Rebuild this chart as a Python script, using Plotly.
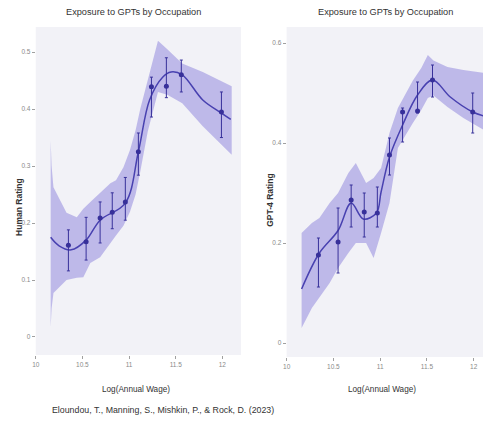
import plotly.graph_objects as go

# ---------------- data ----------------
# Left panel: Human Rating
h_pts_x = [10.35, 10.54, 10.69, 10.82, 10.96, 11.10, 11.24, 11.40, 11.56, 11.99]
h_pts_y = [0.161, 0.167, 0.209, 0.219, 0.237, 0.325, 0.439, 0.440, 0.460, 0.395]
h_pts_hi = [0.188, 0.210, 0.237, 0.253, 0.280, 0.358, 0.456, 0.490, 0.486, 0.430]
h_pts_lo = [0.116, 0.135, 0.165, 0.190, 0.205, 0.284, 0.386, 0.420, 0.430, 0.350]

h_fit_x = [10.16, 10.25, 10.38, 10.54, 10.69, 10.96, 11.10, 11.22, 11.36, 11.45, 11.57, 11.79, 11.99, 12.09]
h_fit_y = [0.175, 0.160, 0.153, 0.170, 0.205, 0.235, 0.325, 0.416, 0.456, 0.465, 0.460, 0.416, 0.393, 0.382]

h_band_x = [10.16, 10.17, 10.19, 10.33, 10.44, 10.51, 10.585, 10.69, 10.80, 10.86, 10.94, 11.01, 11.07,
            11.12, 11.20, 11.31, 11.41, 11.57, 11.79, 12.10]
h_band_hi = [0.345, 0.300, 0.263, 0.218, 0.210, 0.225, 0.237, 0.253, 0.270, 0.275, 0.298, 0.328, 0.363,
             0.400, 0.450, 0.520, 0.505, 0.480, 0.465, 0.440]
h_band_lo = [0.017, 0.050, 0.077, 0.100, 0.104, 0.105, 0.130, 0.140, 0.165, 0.178, 0.195, 0.220, 0.250,
             0.290, 0.360, 0.430, 0.425, 0.410, 0.370, 0.320]

# Right panel: GPT-4 Rating
g_pts_x = [10.34, 10.55, 10.69, 10.83, 10.97, 11.10, 11.24, 11.40, 11.56, 11.99]
g_pts_y = [0.176, 0.202, 0.286, 0.262, 0.260, 0.376, 0.462, 0.464, 0.526, 0.462]
g_pts_hi = [0.210, 0.270, 0.316, 0.300, 0.312, 0.410, 0.470, 0.522, 0.556, 0.500]
g_pts_lo = [0.112, 0.140, 0.232, 0.212, 0.232, 0.336, 0.402, 0.460, 0.492, 0.420]

g_fit_x = [10.16, 10.35, 10.55, 10.69, 10.82, 10.96, 11.01, 11.10, 11.24, 11.40, 11.56, 11.75, 11.99, 12.11]
g_fit_y = [0.108, 0.180, 0.225, 0.280, 0.248, 0.260, 0.302, 0.372, 0.436, 0.496, 0.526, 0.492, 0.462, 0.454]

g_band_x = [10.16, 10.27, 10.35, 10.46, 10.55, 10.66, 10.74, 10.85, 10.93, 11.01, 11.10, 11.19, 11.35,
            11.44, 11.51, 11.57, 11.72, 11.89, 12.11]
g_band_hi = [0.220, 0.240, 0.250, 0.280, 0.300, 0.340, 0.360, 0.320, 0.330, 0.350, 0.420, 0.470, 0.525,
             0.550, 0.576, 0.565, 0.552, 0.546, 0.540]
g_band_lo = [0.030, 0.070, 0.090, 0.120, 0.150, 0.180, 0.200, 0.200, 0.170, 0.220, 0.280, 0.390, 0.440,
             0.466, 0.490, 0.495, 0.472, 0.450, 0.426]

x_tickvals = [10, 10.5, 11, 11.5, 12]
x_ticktext = ["10", "10.5", "11", "11.5", "12"]
h_tickvals = [0, 0.1, 0.2, 0.3, 0.4, 0.5]
h_ticktext = ["0", "0.1", "0.2", "0.3", "0.4", "0.5"]
g_tickvals = [0, 0.2, 0.4, 0.6]
g_ticktext = ["0", "0.2", "0.4", "0.6"]

title_text = "Exposure to GPTs by Occupation"
xlabel = "Log(Annual Wage)"
citation = "Eloundou, T., Manning, S., Mishkin, P., & Rock, D. (2023)"

# ---------------- style ----------------
W, H = 483, 429
BAND = "rgba(118,108,214,0.42)"
LINE = "#4841b0"
MARK = "#37309a"
SANS = "Liberation Sans, Arial, sans-serif"

fig = go.Figure()


def add_panel(xa, ya, bx, bhi, blo, fx, fy, px, py, phi, plo):
    fig.add_trace(go.Scatter(
        x=list(bx) + list(bx)[::-1], y=list(bhi) + list(blo)[::-1],
        fill="toself", fillcolor=BAND, line=dict(width=0), mode="lines",
        hoverinfo="skip", showlegend=False, xaxis=xa, yaxis=ya))
    fig.add_trace(go.Scatter(
        x=fx, y=fy, mode="lines", line=dict(color=LINE, width=1.5, shape="spline", smoothing=1.0),
        showlegend=False, xaxis=xa, yaxis=ya))
    fig.add_trace(go.Scatter(
        x=px, y=py, mode="markers",
        marker=dict(color=MARK, size=5),
        error_y=dict(type="data", symmetric=False,
                     array=[h - y for h, y in zip(phi, py)],
                     arrayminus=[y - l for l, y in zip(plo, py)],
                     color=MARK, thickness=1, width=1.5),
        showlegend=False, xaxis=xa, yaxis=ya))


add_panel("x", "y", h_band_x, h_band_hi, h_band_lo, h_fit_x, h_fit_y,
          h_pts_x, h_pts_y, h_pts_hi, h_pts_lo)
add_panel("x2", "y2", g_band_x, g_band_hi, g_band_lo, g_fit_x, g_fit_y,
          g_pts_x, g_pts_y, g_pts_hi, g_pts_lo)

tickfont = dict(family=SANS, size=6.5, color="#8a8a8a")
axcommon = dict(showgrid=False, zeroline=False, showline=False, ticks="outside",
                ticklen=3, tickwidth=1, tickcolor="#a0a0a0", tickfont=tickfont)

fig.update_layout(
    width=W, height=H, margin=dict(l=0, r=0, t=0, b=0),
    paper_bgcolor="white", plot_bgcolor="#f2f2f7",
    xaxis=dict(domain=[32 / W, 239 / W], range=[10, 12.2], tickvals=x_tickvals,
               ticktext=x_ticktext, anchor="y", **axcommon),
    yaxis=dict(domain=[1 - 355 / H, 1 - 27 / H], range=[-0.0316, 0.544],
               tickvals=h_tickvals, ticktext=h_ticktext, anchor="x", **axcommon),
    xaxis2=dict(domain=[285 / W, 1.0], range=[10, 12.1], tickvals=x_tickvals,
                ticktext=x_ticktext, anchor="y2", **axcommon),
    yaxis2=dict(domain=[1 - 357 / H, 1 - 27 / H], range=[-0.028, 0.632],
                tickvals=g_tickvals, ticktext=g_ticktext, anchor="x2", **axcommon),
)

ann = []


def text(x, y, t, size, family=SANS, color="#333333", angle=0, bold=False):
    if bold:
        t = "<b>" + t + "</b>"
    ann.append(dict(x=x / W, y=1 - y / H, xref="paper", yref="paper", text=t,
                    showarrow=False, textangle=angle, xanchor="center", yanchor="middle",
                    font=dict(family=family, size=size, color=color)))


text(131, 12, title_text, 9.2)
text(385, 12, title_text, 9.2)
text(133, 389, xlabel, 8.2)
text(381, 389, xlabel, 8.2)
text(15, 207, "Human Rating", 8.5, angle=-90, bold=True)
text(268, 200, "GPT-4 Rating", 8.5, angle=-90, bold=True)
text(160, 410, citation, 8.8)

fig.update_layout(annotations=ann)
fig.write_html("out.html")
